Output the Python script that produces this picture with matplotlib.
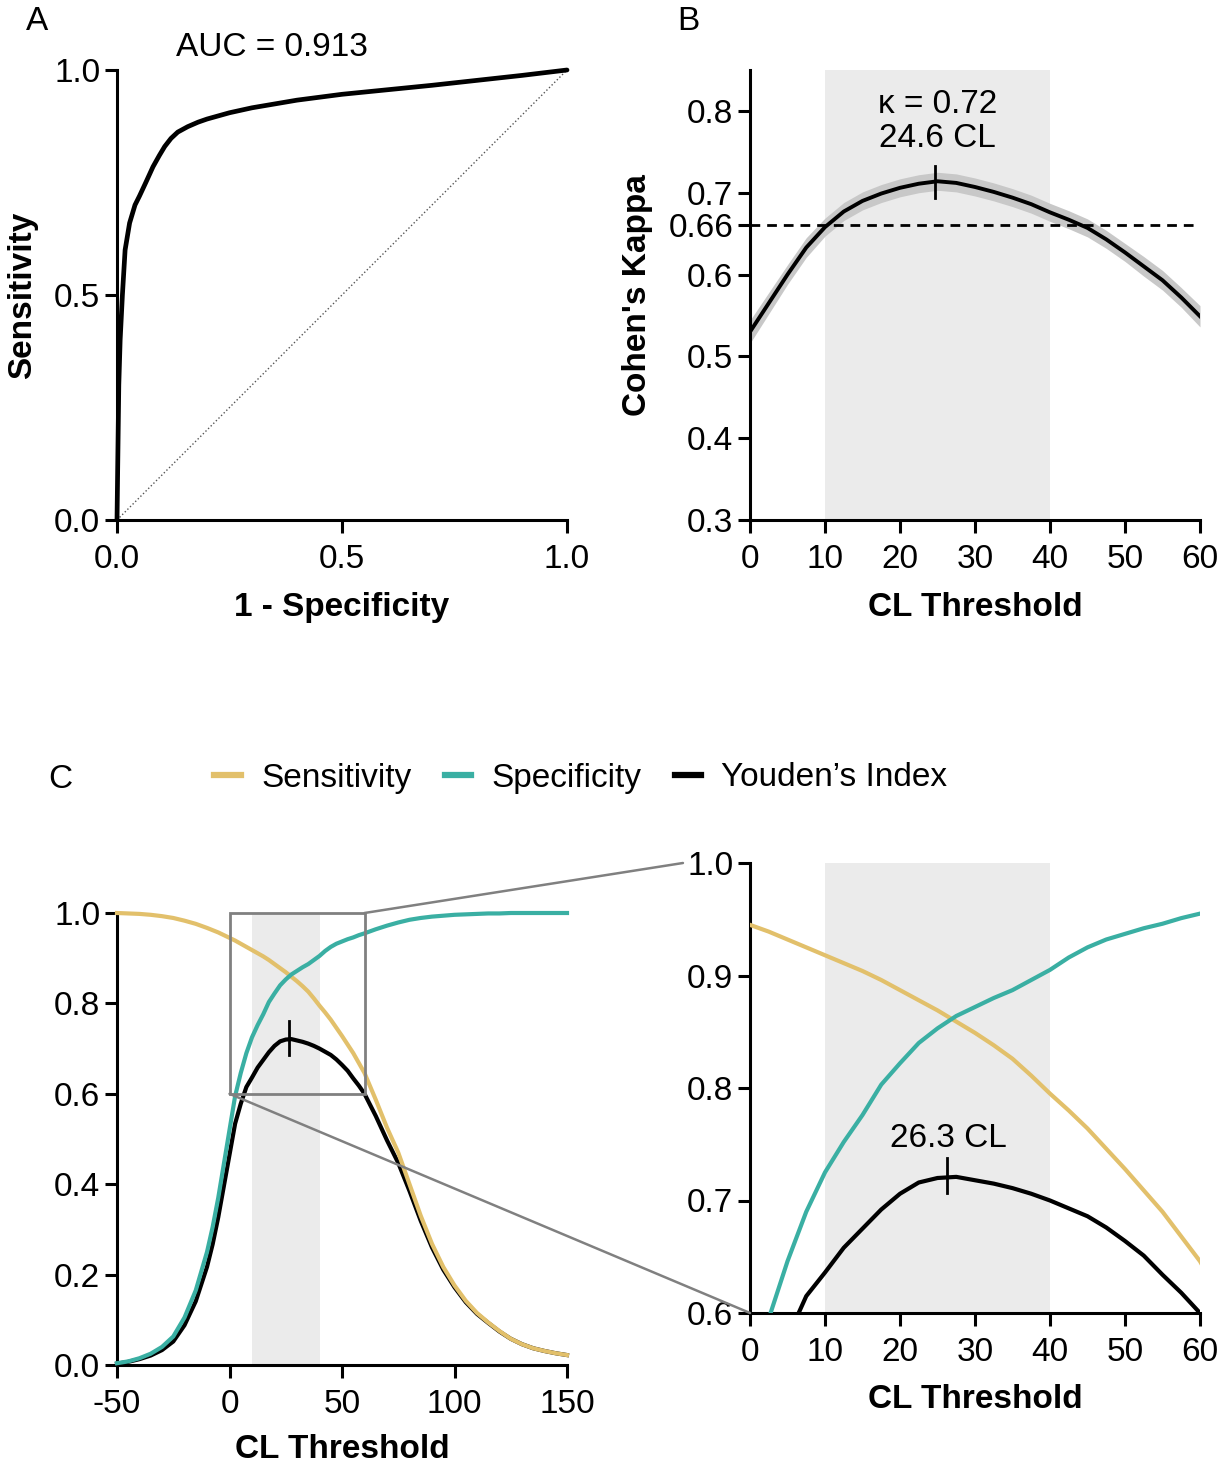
import numpy as np
import matplotlib
matplotlib.use('Agg')
import matplotlib.pyplot as plt
from matplotlib.patches import Rectangle, ConnectionPatch
from matplotlib.lines import Line2D

plt.rcParams['font.family'] = ['Liberation Sans', 'DejaVu Sans']
plt.rcParams['font.size'] = 24
plt.rcParams['axes.unicode_minus'] = False

# ---- data ----
# A: ROC curve
roc_fpr = [0, 0.002, 0.004, 0.007, 0.012, 0.018, 0.028, 0.04, 0.05, 0.064, 0.08,
           0.094, 0.106, 0.12, 0.135, 0.157, 0.18, 0.2, 0.25, 0.3, 0.4, 0.5, 0.6,
           0.7, 0.8, 0.9, 1.0]
roc_tpr = [0, 0.15, 0.3, 0.4, 0.5, 0.6, 0.66, 0.7, 0.72, 0.75, 0.785,
           0.81, 0.83, 0.848, 0.862, 0.874, 0.884, 0.891, 0.905, 0.916, 0.933,
           0.946, 0.956, 0.966, 0.977, 0.988, 1.0]
auc_text = 'AUC = 0.913'

# B: Cohen's kappa vs CL threshold
kappa_cl = [0, 2.5, 5, 7.5, 10, 12.5, 15, 17.5, 20, 22.5, 25, 27.5, 30, 32.5, 35,
            37.5, 40, 42.5, 45, 47.5, 50, 52.5, 55, 57.5, 60]
kappa = [0.530, 0.565, 0.600, 0.633, 0.658, 0.677, 0.690, 0.699, 0.706, 0.711, 0.714,
         0.712, 0.707, 0.701, 0.694, 0.686, 0.676, 0.667, 0.657, 0.643, 0.627, 0.610,
         0.593, 0.572, 0.549]
kappa_ci = [0.014, 0.013, 0.012, 0.012, 0.011, 0.011, 0.011, 0.011, 0.011, 0.011, 0.011,
            0.011, 0.011, 0.011, 0.011, 0.011, 0.011, 0.011, 0.011, 0.011, 0.011, 0.012,
            0.012, 0.012, 0.013]
kappa_ref = 0.66
kappa_best_cl = 24.6
kappa_best = 0.713

# C: sensitivity / specificity / Youden's index vs CL threshold
cl = [-50, -45, -40, -35, -30, -25, -20, -15, -10, -7.5, -5, -2.5, 0, 2.5, 5, 7.5, 10,
      12.5, 15, 17.5, 20, 22.5, 25, 27.5, 30, 32.5, 35, 37.5, 40, 42.5, 45, 47.5, 50,
      52.5, 55, 57.5, 60, 65, 70, 75, 80, 85, 90, 95, 100, 105, 110, 115, 120, 125,
      130, 135, 140, 145, 150]
sensitivity = [1.000, 0.999, 0.998, 0.996, 0.993, 0.989, 0.983, 0.976, 0.967, 0.962,
               0.957, 0.951, 0.945, 0.939, 0.932, 0.925, 0.918, 0.911, 0.904, 0.896,
               0.887, 0.878, 0.869, 0.859, 0.849, 0.838, 0.826, 0.811, 0.795, 0.780,
               0.764, 0.746, 0.728, 0.709, 0.690, 0.668, 0.646, 0.587, 0.525, 0.470,
               0.400, 0.330, 0.268, 0.217, 0.176, 0.142, 0.115, 0.094, 0.075, 0.058,
               0.046, 0.037, 0.031, 0.026, 0.022]
specificity = [0.004, 0.008, 0.015, 0.025, 0.040, 0.063, 0.105, 0.165, 0.250, 0.305,
               0.370, 0.445, 0.520, 0.595, 0.646, 0.690, 0.725, 0.752, 0.776, 0.803,
               0.822, 0.840, 0.853, 0.864, 0.872, 0.880, 0.887, 0.896, 0.905, 0.916,
               0.925, 0.932, 0.937, 0.942, 0.946, 0.951, 0.955, 0.964, 0.972, 0.979,
               0.985, 0.989, 0.992, 0.994, 0.996, 0.997, 0.998, 0.999, 0.999, 1.0,
               1.0, 1.0, 1.0, 1.0, 1.0]
youden = [0.003, 0.007, 0.013, 0.021, 0.033, 0.052, 0.088, 0.141, 0.217, 0.267,
          0.327, 0.396, 0.465, 0.534, 0.578, 0.615, 0.636, 0.658, 0.675, 0.692,
          0.706, 0.716, 0.720, 0.721, 0.718, 0.715, 0.711, 0.706, 0.700, 0.693,
          0.686, 0.676, 0.664, 0.651, 0.634, 0.618, 0.600, 0.551, 0.497, 0.447,
          0.385, 0.319, 0.260, 0.211, 0.172, 0.139, 0.113, 0.093, 0.074, 0.058,
          0.046, 0.037, 0.031, 0.026, 0.022]
youden_best_cl = 26.3
youden_best = 0.722
series_names = ['Sensitivity', 'Specificity', 'Youden\u2019s Index']

SENS_C = '#E2C06B'
SPEC_C = '#3AAFA3'
SPAN_C = '#EBEBEB'
CI_C = '#C8C8C8'
ZOOM_C = '#808080'

W, H = 1225, 1467
fig = plt.figure(figsize=(W / 100, H / 100), dpi=100)


def box(x0, ytop, w, h):
    return [x0 / W, 1 - (ytop + h) / H, w / W, h / H]


axA = fig.add_axes(box(117, 70, 450, 450))
axB = fig.add_axes(box(750, 70, 450, 450))
axC = fig.add_axes(box(117, 913, 450, 452))
axD = fig.add_axes(box(750, 863, 450, 450))


def style(ax):
    for s in ['top', 'right']:
        ax.spines[s].set_visible(False)
    for s in ['left', 'bottom']:
        ax.spines[s].set_linewidth(2.2)
    ax.tick_params(direction='out', length=9, width=2.2, labelsize=24, pad=3)
    ax.tick_params(axis='x', pad=8)


for ax in [axA, axB, axC, axD]:
    style(ax)

# ---- A ----
axA.plot([0, 1], [0, 1], ls=':', color='#555555', lw=1.0)
axA.plot(roc_fpr, roc_tpr, color='black', lw=3.4, clip_on=False,
         solid_capstyle='round', solid_joinstyle='round')
axA.set_xlim(0, 1)
axA.set_ylim(0, 1)
axA.set_xticks([0, 0.5, 1.0], ['0.0', '0.5', '1.0'])
axA.set_yticks([0, 0.5, 1.0], ['0.0', '0.5', '1.0'])
axA.text(0.344, 1.051, auc_text, ha='center', va='center', fontsize=24)
axA.set_xlabel('1 - Specificity', fontweight='bold', fontsize=24)
axA.set_ylabel('Sensitivity', fontweight='bold', fontsize=24)
axA.xaxis.set_label_coords(0.5, -0.16)
axA.yaxis.set_label_coords(-0.176, 0.5)

# ---- B ----
k = np.array(kappa)
ci = np.array(kappa_ci)
axB.axvspan(10, 40, color=SPAN_C, lw=0, zorder=0)
axB.fill_between(kappa_cl, k - ci, k + ci, color=CI_C, lw=0, zorder=1)
axB.plot(kappa_cl, kappa, color='black', lw=2.8, zorder=3, solid_joinstyle='round')
axB.axhline(kappa_ref, color='black', ls=(0, (3.5, 2.5)), lw=2, zorder=2, clip_on=False)
axB.plot([kappa_best_cl, kappa_best_cl], [kappa_best - 0.02, kappa_best + 0.02],
         color='black', lw=2, zorder=4)
axB.text(25, 0.787, '\u03ba = 0.72\n24.6 CL', ha='center', va='center',
         fontsize=24, linespacing=1.15)
axB.set_xlim(0, 60)
axB.set_ylim(0.3, 0.85)
axB.set_xticks(range(0, 61, 10))
axB.set_yticks([0.3, 0.4, 0.5, 0.6, 0.66, 0.7, 0.8],
               ['0.3', '0.4', '0.5', '0.6', '0.66', '0.7', '0.8'])
axB.set_xlabel('CL Threshold', fontweight='bold', fontsize=24)
axB.set_ylabel("Cohen's Kappa", fontweight='bold', fontsize=24)
axB.xaxis.set_label_coords(0.5, -0.16)
axB.yaxis.set_label_coords(-0.216, 0.5)

# ---- C (left, full range) ----
axC.axvspan(10, 40, color=SPAN_C, lw=0, zorder=0)
axC.plot(cl, youden, color='black', lw=3.0, zorder=2, clip_on=False, solid_joinstyle='round')
axC.plot(cl, sensitivity, color=SENS_C, lw=3.0, zorder=3, clip_on=False, solid_joinstyle='round')
axC.plot(cl, specificity, color=SPEC_C, lw=3.0, zorder=3, clip_on=False, solid_joinstyle='round')
axC.plot([youden_best_cl, youden_best_cl], [youden_best - 0.037, youden_best + 0.04],
         color='black', lw=2, zorder=4)
axC.add_patch(Rectangle((0, 0.6), 60, 0.4, fill=False, ec=ZOOM_C, lw=2, zorder=5,
                        clip_on=False))
axC.set_xlim(-50, 150)
axC.set_ylim(0, 1.0)
axC.set_xticks([-50, 0, 50, 100, 150])
axC.set_yticks([0, 0.2, 0.4, 0.6, 0.8, 1.0], ['0.0', '0.2', '0.4', '0.6', '0.8', '1.0'])
axC.set_xlabel('CL Threshold', fontweight='bold', fontsize=24)
axC.xaxis.set_label_coords(0.5, -0.153)

# ---- C (right, zoom) ----
axD.axvspan(10, 40, color=SPAN_C, lw=0, zorder=0)
axD.plot(cl, youden, color='black', lw=3.0, zorder=2, solid_joinstyle='round')
axD.plot(cl, sensitivity, color=SENS_C, lw=3.0, zorder=3, solid_joinstyle='round')
axD.plot(cl, specificity, color=SPEC_C, lw=3.0, zorder=3, solid_joinstyle='round')
axD.plot([youden_best_cl, youden_best_cl], [youden_best - 0.015, youden_best + 0.016],
         color='black', lw=2, zorder=4)
axD.text(26.5, 0.741, '26.3 CL', ha='center', va='bottom', fontsize=24)
axD.set_xlim(0, 60)
axD.set_ylim(0.6, 1.0)
axD.set_xticks(range(0, 61, 10))
axD.set_yticks([0.6, 0.7, 0.8, 0.9, 1.0], ['0.6', '0.7', '0.8', '0.9', '1.0'])
axD.set_xlabel('CL Threshold', fontweight='bold', fontsize=24)
axD.xaxis.set_label_coords(0.5, -0.158)

# zoom connectors
con1 = ConnectionPatch(xyA=(60, 1.0), coordsA=axC.transData, xyB=(-0.149, 1.0),
                       coordsB=axD.transAxes, color=ZOOM_C, lw=1.8)
con2 = ConnectionPatch(xyA=(0, 0.6), coordsA=axC.transData, xyB=(0, 0),
                       coordsB=axD.transAxes, color=ZOOM_C, lw=1.8)
fig.add_artist(con1)
fig.add_artist(con2)

# legend
handles = [Line2D([], [], color=c, lw=4.5) for c in [SENS_C, SPEC_C, 'black']]
fig.legend(handles, series_names, loc='center', bbox_to_anchor=(581 / W, 1 - 778 / H),
           ncol=3, frameon=False, handlelength=0.8, handletextpad=0.6,
           columnspacing=1.0, fontsize=24)

# panel letters
fig.text(37 / W, 1 - 22 / H, 'A', ha='center', va='center', fontsize=24)
fig.text(688 / W, 1 - 22 / H, 'B', ha='center', va='center', fontsize=24)
fig.text(60 / W, 1 - 780 / H, 'C', ha='center', va='center', fontsize=24)

fig.savefig('out.png', dpi=100)
